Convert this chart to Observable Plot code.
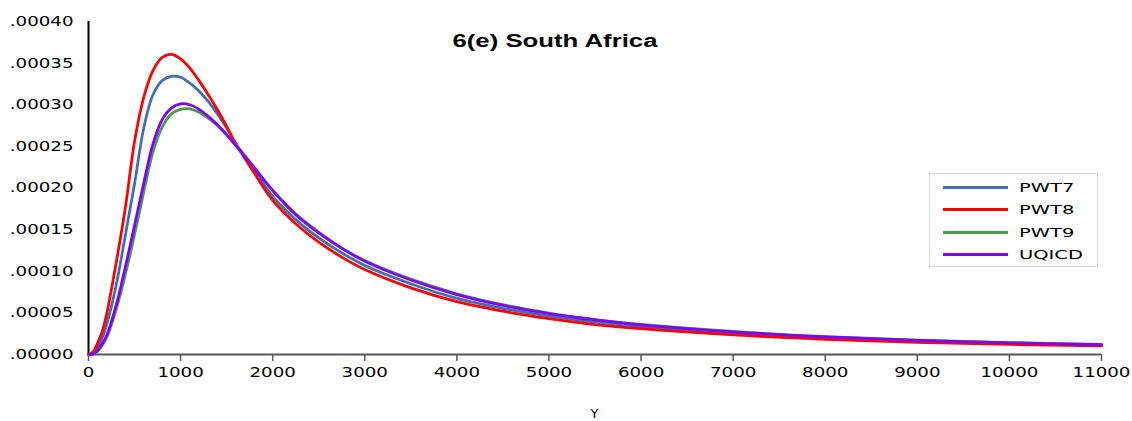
<!DOCTYPE html>
<html>
<head>
<meta charset="utf-8">
<script src="https://cdn.jsdelivr.net/npm/d3@7"></script>
<script src="https://cdn.jsdelivr.net/npm/@observablehq/plot@0.6"></script>
<style>
  html, body { margin: 0; padding: 0; background: #fff; }
  #wrap { position: relative; width: 1132px; height: 421px; overflow: hidden; }
  #legend { position: absolute; left: 929px; top: 173px; width: 169px; height: 94px;
            border: 1px solid #d9d9d9; background: #fff; box-sizing: border-box; }
  .item { position: absolute; left: 13px; height: 20px; width: 150px; }
  .swatch { position: absolute; left: 0; top: 8px; width: 65px; height: 0; border-top: 3px solid; }
  .lab { position: absolute; left: 76px; top: 1px; font-family: "DejaVu Sans"; font-size: 13px;
         line-height: 18px; color: #000; transform: scaleX(1.5); transform-origin: 0 50%; white-space: nowrap; }
</style>
</head>
<body>
<div id="wrap"></div>
<script>
// ---- data ----
const title = "6(e) South Africa";
const xLabel = "Y";
const seriesNames = ["PWT7", "PWT8", "PWT9", "UQICD"];
const seriesColors = ["#3f6fb5", "#ff0000", "#4b9b4b", "#7f00ff"];
const xTicks = [0, 1000, 2000, 3000, 4000, 5000, 6000, 7000, 8000, 9000, 10000, 11000];
const yTicks = [0, 0.00005, 0.0001, 0.00015, 0.0002, 0.00025, 0.0003, 0.00035, 0.0004];

const xs = [0, 50, 100, 150, 200, 300, 400, 500, 600, 700, 800, 900, 1000, 1100, 1200, 1300, 1400, 1500, 1600, 1800,
            2000, 2250, 2500, 2750, 3000, 3500, 4000, 4500, 5000, 5500, 6000, 7000, 8000, 9000, 10000, 11000];

const pwt7 = [0, 0.0000015, 0.0000085, 0.00002, 0.000037, 0.000083, 0.000143, 0.000205, 0.000272, 0.000312,
              0.000329, 0.000334, 0.000333, 0.000326, 0.0003165, 0.000304, 0.000289, 0.000272, 0.0002535, 0.000221,
              0.000190, 0.000162, 0.000140, 0.000122, 0.000107, 0.000085, 0.0000675, 0.0000555, 0.000046, 0.000039,
              0.0000335, 0.0000255, 0.0000198, 0.000016, 0.0000132, 0.0000112];
const pwt8 = [0, 0.000003, 0.000014, 0.000028, 0.00005, 0.00011, 0.000176, 0.000256, 0.000309, 0.000341,
              0.000357, 0.0003605, 0.000355, 0.000344, 0.000329, 0.000312, 0.000294, 0.000274, 0.000253, 0.000218,
              0.000185, 0.000157, 0.000135, 0.000117, 0.000102, 0.00008, 0.0000635, 0.000052, 0.000043, 0.000036,
              0.000031, 0.0000235, 0.0000183, 0.0000146, 0.0000121, 0.0000103];
const pwt9 = [0, 0.0000003, 0.000004, 0.000011, 0.000021, 0.000054, 0.000096, 0.000144, 0.000195, 0.000243,
              0.000273, 0.000289, 0.0002945, 0.000295, 0.000291, 0.000284, 0.000275, 0.000264, 0.000252, 0.000225,
              0.000197, 0.000169, 0.000147, 0.000128, 0.000113, 0.0000905, 0.000073, 0.0000598, 0.0000497, 0.000042,
              0.0000362, 0.0000277, 0.0000215, 0.0000173, 0.0000143, 0.0000121];
const uqicd = [0, 0.0000005, 0.000005, 0.000013, 0.0000235, 0.000059, 0.000105, 0.000155, 0.000206, 0.000253,
               0.000282, 0.000296, 0.000301, 0.0003, 0.0002945, 0.000286, 0.000276, 0.000264, 0.000251, 0.000224,
               0.000197, 0.000168, 0.000146, 0.0001275, 0.000112, 0.0000895, 0.000072, 0.000059, 0.000049, 0.0000415,
               0.0000357, 0.0000273, 0.0000212, 0.0000171, 0.0000141, 0.000012];

const seriesValues = [pwt7, pwt8, pwt9, uqicd];
const rows = [];
seriesNames.forEach((name, i) => {
  xs.forEach((x, j) => rows.push({series: name, x, v: seriesValues[i][j]}));
});

const fmtY = d => d3.format(".5f")(d).replace(/^0/, "");

const chart = Plot.plot({
  width: 1132,
  height: 421,
  marginLeft: 88,
  marginRight: 31,
  marginTop: 21,
  marginBottom: 67,
  style: {fontFamily: "DejaVu Sans", fontSize: "14px", color: "#000", background: "#fff", overflow: "visible"},
  x: {domain: [0, 11000]},
  y: {domain: [0, 0.0004]},
  color: {domain: seriesNames, range: seriesColors},
  marks: [
    Plot.axisY({ticks: yTicks, tickSize: 0, tickPadding: 15, tickFormat: fmtY, label: null}),
    Plot.axisX({ticks: xTicks, tickSize: 7, tickPadding: 6, tickFormat: d => String(d), label: null, stroke: "#595959", strokeWidth: 1.5}),
    Plot.ruleY([0], {stroke: "#595959", strokeWidth: 2}),
    Plot.ruleX([0], {stroke: "#000", strokeWidth: 2}),
    Plot.line(rows, {x: "x", y: "v", z: "series", stroke: "series", strokeWidth: 2.75, curve: "catmull-rom"})
  ]
});

const wrap = document.getElementById("wrap");
wrap.appendChild(chart);

const svg = d3.select(chart);
// stretch tick labels horizontally like the reference
svg.selectAll("g[aria-label$='tick label'] text").each(function() {
  const w = this.getComputedTextLength();
  this.setAttribute("textLength", w * 1.3);
  this.setAttribute("lengthAdjust", "spacingAndGlyphs");
});

// title
const t = svg.append("text")
  .attr("x", 555).attr("y", 46.5)
  .attr("text-anchor", "middle")
  .attr("font-family", "'Liberation Sans', Arial, sans-serif")
  .attr("font-weight", "bold")
  .attr("font-size", 18)
  .attr("fill", "#000")
  .text(title);
t.attr("textLength", t.node().getComputedTextLength() * 1.43).attr("lengthAdjust", "spacingAndGlyphs");

// x-axis label
const xsc = chart.scale("x");
svg.append("text")
  .attr("x", (xsc.range[0] + xsc.range[1]) / 2)
  .attr("y", 418)
  .attr("text-anchor", "middle")
  .attr("font-family", "DejaVu Sans")
  .attr("font-size", 13)
  .attr("fill", "#000")
  .text(xLabel);

// legend
const legend = document.createElement("div");
legend.id = "legend";
seriesNames.forEach((name, i) => {
  const item = document.createElement("div");
  item.className = "item";
  item.style.top = (4 + i * 22.3) + "px";
  const sw = document.createElement("div");
  sw.className = "swatch";
  sw.style.borderTopColor = seriesColors[i];
  const lab = document.createElement("div");
  lab.className = "lab";
  lab.textContent = name;
  item.appendChild(sw);
  item.appendChild(lab);
  legend.appendChild(item);
});
wrap.appendChild(legend);
</script>
</body>
</html>
